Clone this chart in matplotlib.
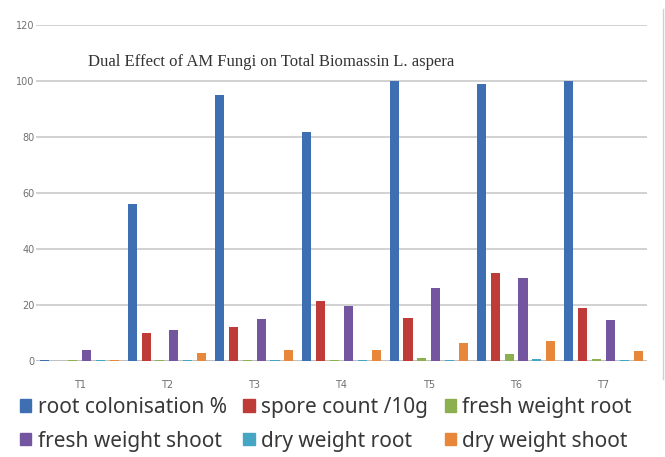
import numpy as np
import matplotlib.pyplot as plt
from matplotlib.patches import Patch
from matplotlib.lines import Line2D

treatments = ['T1', 'T2', 'T3', 'T4', 'T5', 'T6', 'T7']
series_names = ['root colonisation %', 'spore count /10g', 'fresh weight root',
                'fresh weight shoot', 'dry weight root', 'dry weight shoot']
root_colonisation = [0.5, 56, 95, 82, 100, 99, 100]
spore_count = [0, 10, 12, 21.5, 15.5, 31.5, 19]
fresh_weight_root = [0.4, 0.5, 0.5, 0.4, 1, 2.5, 0.8]
fresh_weight_shoot = [4, 11, 15, 19.5, 26, 29.5, 14.8]
dry_weight_root = [0.4, 0.4, 0.5, 0.4, 0.3, 0.8, 0.3]
dry_weight_shoot = [0.4, 3, 3.8, 3.8, 6.5, 7, 3.5]

series = [root_colonisation, spore_count, fresh_weight_root,
          fresh_weight_shoot, dry_weight_root, dry_weight_shoot]
colors = ['#3e6fb3', '#be3b38', '#8cb04f', '#7355a0', '#44a6c2', '#e8873a']

fig = plt.figure(figsize=(6.65, 4.57), dpi=100)
ax = fig.add_axes([0.054, 0.21, 0.919, 0.735])

x = np.arange(len(treatments))
slot = 0.159
width = 0.104
for i, (vals, c) in enumerate(zip(series, colors)):
    ax.bar(x + (i - 2.5) * slot, vals, width, color=c, zorder=3)

ax.set_xlim(-0.5, 6.5)
ax.set_ylim(0, 120)
ax.set_yticks(range(0, 121, 20))
ax.set_xticks(x)
ax.set_xticklabels(treatments)
ax.grid(axis='y', color='#c9c9c9', lw=1.2, zorder=0)
for s in ax.spines.values():
    s.set_visible(False)
ax.axhline(0, color='#bdbdbd', lw=1.2, zorder=2)
ax.tick_params(axis='both', length=0, labelsize=7, colors='#707070')
ax.tick_params(axis='x', pad=14)
ax.tick_params(axis='y', pad=1)

fig.text(0.133, 0.865, 'Dual Effect of AM Fungi on Total Biomassin L. aspera',
         family='Liberation Serif', fontsize=12, color='#333333', va='center')

# thin frame edge on the right
fig.add_artist(Line2D([0.997, 0.997], [0.17, 0.98], transform=fig.transFigure,
                      color='#d0d0d0', lw=1))

# legend fills column by column, so interleave to read row by row
order = [0, 3, 1, 4, 2, 5]
handles = [Patch(color=colors[k], label=series_names[k]) for k in order]
fig.legend(handles=handles, ncol=3, loc='upper left', bbox_to_anchor=(0.030, 0.132),
           frameon=False, handlelength=0.55, handleheight=0.55,
           handletextpad=0.3, columnspacing=0.8, labelspacing=0.62,
           borderaxespad=0, borderpad=0, labelcolor='#383838',
           prop={'family': 'Noto Sans', 'size': 15})

fig.savefig('out.png', dpi=100)
